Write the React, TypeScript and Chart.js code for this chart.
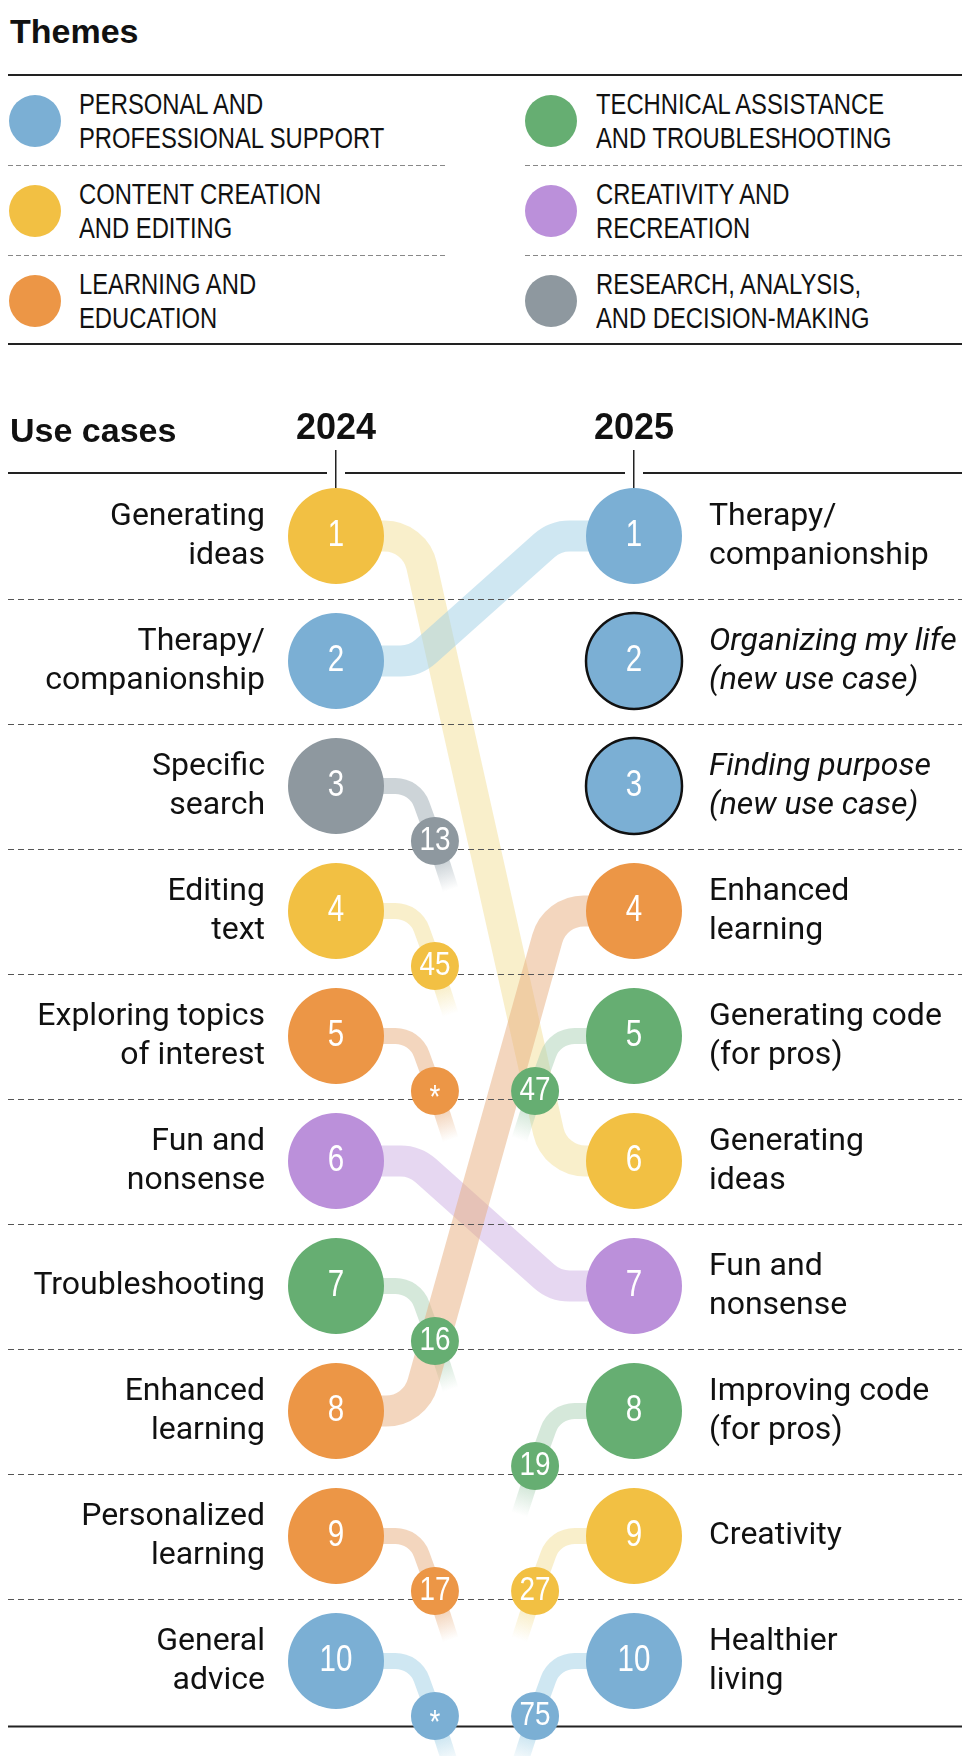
import { useEffect, useRef } from "react";
import { Chart, registerables } from "chart.js";

Chart.register(...registerables);

// ranks shown in both columns
const ranks = [1, 2, 3, 4, 5, 6, 7, 8, 9, 10];
const years = ["2024", "2025"];

// 2024 column
const labels2024 = [
  ["Generating", "ideas"],
  ["Therapy/", "companionship"],
  ["Specific", "search"],
  ["Editing", "text"],
  ["Exploring topics", "of interest"],
  ["Fun and", "nonsense"],
  ["Troubleshooting"],
  ["Enhanced", "learning"],
  ["Personalized", "learning"],
  ["General", "advice"],
];
const themes2024 = ["content", "personal", "research", "content", "learning", "creativity", "technical", "learning", "learning", "personal"];
// rank of each 2024 use case in 2025 (null = not ranked, shown as *)
const rankIn2025 = [6, 1, 13, 45, null, 7, 16, 4, 17, null];

// 2025 column
const labels2025 = [
  ["Therapy/", "companionship"],
  ["Organizing my life", "(new use case)"],
  ["Finding purpose", "(new use case)"],
  ["Enhanced", "learning"],
  ["Generating code", "(for pros)"],
  ["Generating", "ideas"],
  ["Fun and", "nonsense"],
  ["Improving code", "(for pros)"],
  ["Creativity"],
  ["Healthier", "living"],
];
const themes2025 = ["personal", "personal", "personal", "learning", "technical", "content", "creativity", "technical", "content", "personal"];
// rank of each 2025 use case in 2024 (null = new use case)
const rankIn2024 = [2, null, null, 8, 47, 1, 6, 19, 27, 75];

// legend, row by row (left column, right column)
const themeKeys = ["personal", "technical", "content", "creativity", "learning", "research"];
const themeLabels = [
  ["PERSONAL AND", "PROFESSIONAL SUPPORT"],
  ["TECHNICAL ASSISTANCE", "AND TROUBLESHOOTING"],
  ["CONTENT CREATION", "AND EDITING"],
  ["CREATIVITY AND", "RECREATION"],
  ["LEARNING AND", "EDUCATION"],
  ["RESEARCH, ANALYSIS,", "AND DECISION-MAKING"],
];
const themeColors: Record<string, string> = {
  personal: "#7bafd4",
  technical: "#66ae72",
  content: "#f2c043",
  creativity: "#bb90da",
  learning: "#ec9646",
  research: "#8e989f",
};
// paler tints used for the connectors (drawn at half opacity)
const linkColors: Record<string, string> = {
  personal: "#9fcfe5",
  technical: "#abd1b5",
  content: "#f3df97",
  creativity: "#cdafe3",
  learning: "#e7ad7d",
  research: "#9ba9b1",
};

const LABEL = "Roboto, 'Liberation Sans', sans-serif";
const HEAD = "'Liberation Sans', Arial, sans-serif";
const SQUEEZE = 0.82; // no narrow face installed, so condense by hand

// where the connectors bend, in x units (2024 = 0, 2025 = 1)
const BEND_L = 0.265;
const BEND_R = 0.735;
const BADGE_L = 0.332;
const BADGE_R = 0.668;
const BADGE_DY = 0.44;
const TAIL_L = 0.385;
const TAIL_R = 0.615;
const TAIL_DY = 0.83;
const LINE_ALPHA = 0.5;

const rgba = (hex: string, a: number) => {
  const n = parseInt(hex.slice(1), 16);
  return `rgba(${(n >> 16) & 255}, ${(n >> 8) & 255}, ${n & 255}, ${a})`;
};

const rankPlugin = {
  id: "rankChart",
  beforeDatasetsDraw(chart: any) {
    const { ctx, chartArea, scales } = chart;
    const yS = scales.y;
    const xS = scales.x;
    const W = chart.width;
    ctx.save();

    // connectors
    chart.data.datasets.forEach((ds: any, i: number) => {
      if (!ds.linkKind) return;
      const p = chart.getDatasetMeta(i).data;
      const c = ds.linkColor;
      ctx.strokeStyle = rgba(c, LINE_ALPHA);
      ctx.lineCap = "butt";
      ctx.beginPath();
      ctx.moveTo(p[0].x, p[0].y);
      if (ds.linkKind === "link") {
        ctx.lineWidth = 31;
        ctx.arcTo(p[1].x, p[1].y, p[2].x, p[2].y, 38);
        ctx.arcTo(p[2].x, p[2].y, p[3].x, p[3].y, 38);
        ctx.lineTo(p[3].x, p[3].y);
        ctx.stroke();
      } else {
        ctx.lineWidth = 16;
        ctx.arcTo(p[1].x, p[1].y, p[2].x, p[2].y, 28);
        ctx.lineTo(p[2].x, p[2].y);
        ctx.stroke();
        const g = ctx.createLinearGradient(p[2].x, p[2].y, p[3].x, p[3].y);
        g.addColorStop(0, rgba(c, LINE_ALPHA));
        g.addColorStop(0.45, rgba(c, LINE_ALPHA));
        g.addColorStop(1, rgba(c, 0));
        ctx.strokeStyle = g;
        ctx.beginPath();
        ctx.moveTo(p[2].x, p[2].y);
        ctx.lineTo(p[3].x, p[3].y);
        ctx.stroke();
      }
    });

    // dashed separators between rows, on top of the connectors
    ctx.strokeStyle = "#555";
    ctx.lineWidth = 1;
    ctx.setLineDash([6, 4]);
    ranks.slice(0, -1).forEach((r) => {
      const py = Math.round(yS.getPixelForValue(r + 0.5)) + 0.5;
      ctx.beginPath();
      ctx.moveTo(0, py);
      ctx.lineTo(W, py);
      ctx.stroke();
    });
    ctx.setLineDash([]);

    // solid rules
    ctx.strokeStyle = "#222";
    ctx.lineWidth = 2;
    const bottom = yS.getPixelForValue(ranks.length + 0.5) + 3;
    ctx.beginPath();
    ctx.moveTo(0, bottom);
    ctx.lineTo(W, bottom);
    ctx.stroke();
    const head = chartArea.top - 15;
    const a = xS.getPixelForValue(0);
    const b = xS.getPixelForValue(1);
    [[0, a - 9], [a + 9, b - 9], [b + 9, W]].forEach(([s, e]) => {
      ctx.beginPath();
      ctx.moveTo(s, head);
      ctx.lineTo(e, head);
      ctx.stroke();
    });
    ctx.restore();
  },
  afterDatasetsDraw(chart: any) {
    const { ctx } = chart;
    chart.data.datasets.forEach((ds: any, i: number) => {
      if (!ds.numberLabels) return;
      chart.getDatasetMeta(i).data.forEach((pt: any, j: number) => {
        const txt = ds.numberLabels[j];
        ctx.save();
        ctx.fillStyle = "#ffffff";
        ctx.textAlign = "center";
        ctx.textBaseline = "middle";
        ctx.font = `${ds.numberSize}px ${HEAD}`;
        ctx.translate(pt.x, pt.y + (txt === "*" ? ds.numberSize * 0.22 : 0));
        ctx.scale(SQUEEZE, 1);
        ctx.fillText(txt, 0, 0);
        ctx.restore();
      });
    });
  },
};

function buildDatasets() {
  const links: any[] = [];
  const badgePts: { x: number; y: number }[] = [];
  const badgeColors: string[] = [];
  const badgeText: string[] = [];

  labels2024.forEach((_, i) => {
    const r1 = ranks[i];
    const r2 = rankIn2025[i];
    const theme = themes2024[i];
    if (r2 !== null && r2 <= ranks.length) {
      links.push({
        linkKind: "link",
        linkColor: linkColors[theme],
        data: [
          { x: 0, y: r1 },
          { x: BEND_L, y: r1 },
          { x: BEND_R, y: r2 },
          { x: 1, y: r2 },
        ],
      });
    } else {
      links.push({
        linkKind: "tail",
        linkColor: linkColors[theme],
        data: [
          { x: 0, y: r1 },
          { x: BEND_L, y: r1 },
          { x: BADGE_L, y: r1 + BADGE_DY },
          { x: TAIL_L, y: r1 + TAIL_DY },
        ],
      });
      badgePts.push({ x: BADGE_L, y: r1 + BADGE_DY });
      badgeColors.push(themeColors[theme]);
      badgeText.push(r2 === null ? "*" : String(r2));
    }
  });

  labels2025.forEach((_, j) => {
    const r2 = ranks[j];
    const r1 = rankIn2024[j];
    if (r1 === null || r1 <= ranks.length) return;
    const theme = themes2025[j];
    links.push({
      linkKind: "tail",
      linkColor: linkColors[theme],
      data: [
        { x: 1, y: r2 },
        { x: BEND_R, y: r2 },
        { x: BADGE_R, y: r2 + BADGE_DY },
        { x: TAIL_R, y: r2 + TAIL_DY },
      ],
    });
    badgePts.push({ x: BADGE_R, y: r2 + BADGE_DY });
    badgeColors.push(themeColors[theme]);
    badgeText.push(String(r1));
  });

  const common = { clip: false, showLine: false };
  return [
    ...links.map((l) => ({ ...common, ...l, pointRadius: 0, pointHoverRadius: 0 })),
    {
      ...common,
      data: badgePts,
      pointRadius: 24,
      pointHoverRadius: 24,
      pointBorderWidth: 0,
      pointBackgroundColor: badgeColors,
      numberLabels: badgeText,
      numberSize: 34,
    },
    {
      ...common,
      data: ranks.map((r) => ({ x: 0, y: r })),
      pointRadius: 48,
      pointHoverRadius: 48,
      pointBorderWidth: 0,
      pointBackgroundColor: themes2024.map((t) => themeColors[t]),
      numberLabels: ranks.map(String),
      numberSize: 36,
    },
    {
      ...common,
      data: ranks.map((r) => ({ x: 1, y: r })),
      pointRadius: 48,
      pointHoverRadius: 48,
      pointBorderWidth: rankIn2024.map((r) => (r === null ? 2.5 : 0)),
      pointBorderColor: "#111111",
      pointBackgroundColor: themes2025.map((t) => themeColors[t]),
      numberLabels: ranks.map(String),
      numberSize: 36,
    },
  ];
}

// keep the label columns at fixed widths and stop the axes from insetting the plot
const fixWidth = (w: number) => (s: any) => {
  s.width = w;
  s.paddingTop = 0;
  s.paddingBottom = 0;
};

function RankChart() {
  const canvasRef = useRef<HTMLCanvasElement>(null);

  useEffect(() => {
    if (!canvasRef.current) return;
    const chart = new Chart(canvasRef.current, {
      type: "scatter",
      data: { datasets: buildDatasets() as any },
      plugins: [rankPlugin],
      options: {
        animation: false,
        responsive: true,
        maintainAspectRatio: false,
        events: [],
        layout: { padding: 0, autoPadding: false },
        plugins: { legend: { display: false }, tooltip: { enabled: false } },
        scales: {
          x: {
            type: "linear",
            position: "top",
            min: -0.2047,
            max: 1.2181,
            afterBuildTicks: (s: any) => {
              s.ticks = years.map((_, i) => ({ value: i }));
            },
            afterFit: (s: any) => {
              s.height = 108;
              s.paddingLeft = 0;
              s.paddingRight = 0;
            },
            grid: { display: true, drawOnChartArea: false, drawTicks: true, tickLength: 38, color: "#222", lineWidth: 1.5 },
            border: { display: false },
            ticks: {
              callback: (_v: any, i: number) => years[i],
              color: "#111",
              padding: 3,
              autoSkip: false,
              maxRotation: 0,
              font: { family: HEAD, size: 36, weight: "bold", lineHeight: 1 },
            },
          },
          y: {
            type: "linear",
            position: "left",
            reverse: true,
            min: 0.616,
            max: 10.76,
            afterBuildTicks: (s: any) => {
              s.ticks = ranks.map((v) => ({ value: v }));
            },
            afterFit: fixWidth(267),
            grid: { display: false, drawTicks: false, tickLength: 0 },
            border: { display: false },
            ticks: {
              callback: (_v: any, i: number) => labels2024[i],
              color: "#111",
              padding: 10,
              autoSkip: false,
              font: { family: LABEL, size: 32, lineHeight: "39px" },
            },
          },
          y2: {
            type: "linear",
            position: "right",
            reverse: true,
            min: 0.616,
            max: 10.76,
            afterBuildTicks: (s: any) => {
              s.ticks = ranks.map((v) => ({ value: v }));
            },
            afterFit: fixWidth(264),
            grid: { display: false, drawTicks: false, tickLength: 0 },
            border: { display: false },
            ticks: {
              callback: (_v: any, i: number) => labels2025[i],
              color: "#111",
              padding: 10,
              autoSkip: false,
              font: (c: any) => ({
                family: LABEL,
                size: 32,
                lineHeight: "39px",
                style: rankIn2024[c.index] === null ? "italic" : "normal",
              }),
            },
          },
        },
      } as any,
    });
    return () => chart.destroy();
  }, []);

  return <canvas ref={canvasRef}></canvas>;
}

export default function App() {
  useEffect(() => {
    document.documentElement.style.overflow = "hidden";
  }, []);

  const dash = "repeating-linear-gradient(to right, #888 0 5px, transparent 5px 8px)";

  return (
    <div
      style={{
        position: "relative",
        marginLeft: -3,
        width: 955,
        height: 1760,
        borderLeft: "3px solid #a7abb8",
        borderRight: "2px solid #a7abb8",
        color: "#111",
      }}
    >
      <div style={{ position: "absolute", left: 2, top: 6, font: `bold 34px/34px ${HEAD}`, whiteSpace: "nowrap" }}>Themes</div>
      <div style={{ position: "absolute", left: 0, right: 0, top: 66, height: 2, background: "#222" }} />

      {themeKeys.map((key, k) => {
        const col = k % 2;
        const row = Math.floor(k / 2);
        const cx = col === 0 ? 35 : 551;
        const tx = col === 0 ? 79 : 596;
        const cy = 121 + row * 90;
        return (
          <div key={key}>
            <div
              style={{
                position: "absolute",
                left: cx - 8 - 26,
                top: cy - 8 - 26,
                width: 52,
                height: 52,
                borderRadius: "50%",
                background: themeColors[key],
              }}
            />
            <div
              style={{
                position: "absolute",
                left: tx - 8,
                top: 79 + row * 90,
                font: `29px/34px ${HEAD}`,
                whiteSpace: "nowrap",
                transform: `scaleX(${SQUEEZE})`,
                transformOrigin: "left top",
              }}
            >
              {themeLabels[k][0]}
              <br />
              {themeLabels[k][1]}
            </div>
          </div>
        );
      })}

      {[165, 255].map((y) => (
        <div key={y}>
          <div style={{ position: "absolute", left: 0, top: y - 8, width: 437, height: 1, background: dash }} />
          <div style={{ position: "absolute", left: 517, top: y - 8, width: 438, height: 1, background: dash }} />
        </div>
      ))}

      <div style={{ position: "absolute", left: 0, right: 0, top: 335, height: 2, background: "#222" }} />

      <div style={{ position: "absolute", left: 0, top: 372, width: 955, height: 1376 }}>
        <RankChart />
      </div>

      <div style={{ position: "absolute", left: 2, top: 405, font: `bold 34px/34px ${HEAD}`, whiteSpace: "nowrap" }}>Use cases</div>
    </div>
  );
}
